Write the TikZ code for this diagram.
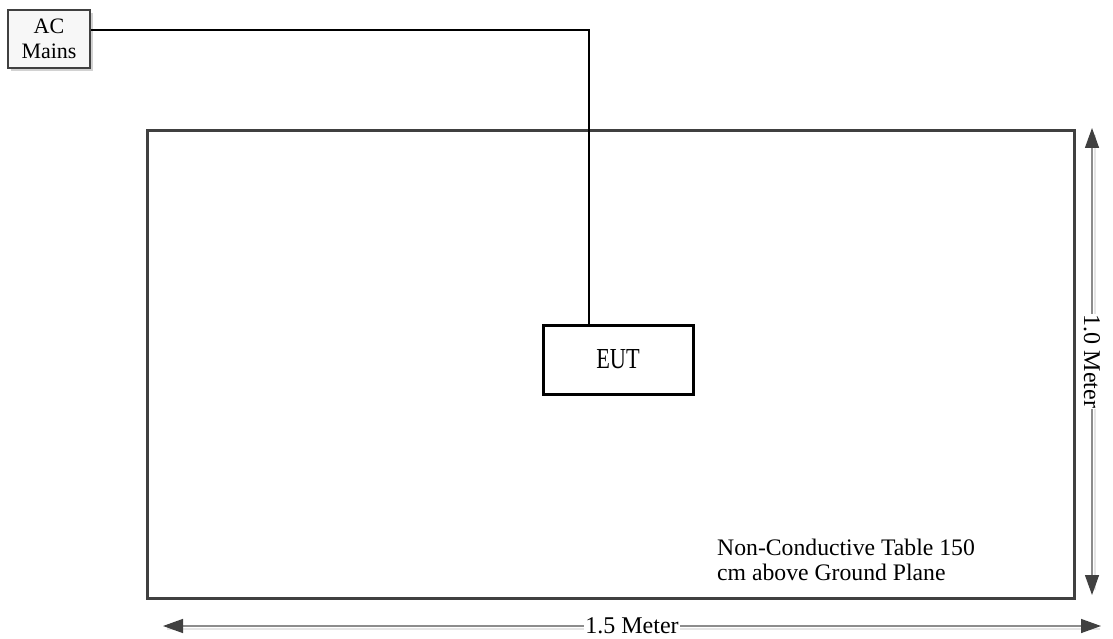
\documentclass[tikz,border=0pt]{standalone}
\usepackage{fontspec}
\setmainfont{Liberation Serif}
\usetikzlibrary{arrows.meta,shadows}
\definecolor{dk}{HTML}{404040}
\definecolor{ln}{HTML}{8C8C8C}
\begin{document}
\begin{tikzpicture}[x=1pt,y=-1pt,
  boxac/.style={draw=dk,line width=2pt,fill=gray!6,minimum width=82pt,minimum height=58pt,align=center,inner sep=0pt,
    font=\fontsize{22}{25}\selectfont,drop shadow={shadow xshift=3pt,shadow yshift=-3pt,fill=gray!35,opacity=1}},
  boxeut/.style={draw=black,line width=3pt,minimum width=150pt,minimum height=69pt,inner sep=0pt},
  tablebox/.style={draw=dk,line width=3pt},
  wire/.style={draw=black,line width=1.4pt},
  dim/.style={draw=ln,line width=1.4pt,{Triangle[length=20pt,width=14pt,fill=dk,color=dk]}-{Triangle[length=20pt,width=14pt,fill=dk,color=dk]}},
  dimshadow/.style={draw=gray!20,line width=1.4pt},
  lbl/.style={font=\fontsize{24}{25}\selectfont,fill=white,inner sep=1pt}
]
\useasboundingbox (0,0) rectangle (1113,639);
% table
\draw[tablebox] (147,131) rectangle (1074,598);
% AC mains
\node[boxac] (ac) at (49,39) {AC\\Mains};
% EUT
\node[boxeut,fill=white] (eut) at (618,359.5) {};
\node[font=\fontsize{29}{30}\selectfont,xscale=0.77] (eutlbl) at (eut.center) {EUT};
% wire
\coordinate (corner) at (589,30);
\draw[wire] (ac.east |- corner) -- (corner) -- (corner |- eut.north);
% dimension shadows
\draw[dimshadow] (167,629) -- (1100,629);
\draw[dimshadow] (1095,135) -- (1095,590);
% dimension arrows
\coordinate (hl) at (163,626);
\coordinate (hr) at (1101,626);
\coordinate (vt) at (1092,128);
\coordinate (vb) at (1092,595);
\draw[dim] (hl) -- (hr) node[midway,lbl] (hlabel) {1.5 Meter};
\draw[dim] (vt) -- (vb) node[midway,lbl,rotate=-90] (vlabel) {1.0 Meter};
% note
\node[anchor=north west,align=left,font=\fontsize{23.7}{25}\selectfont,inner sep=0pt] (note) at (717,539) {Non-Conductive Table 150\\cm above Ground Plane};
\end{tikzpicture}
\end{document}
